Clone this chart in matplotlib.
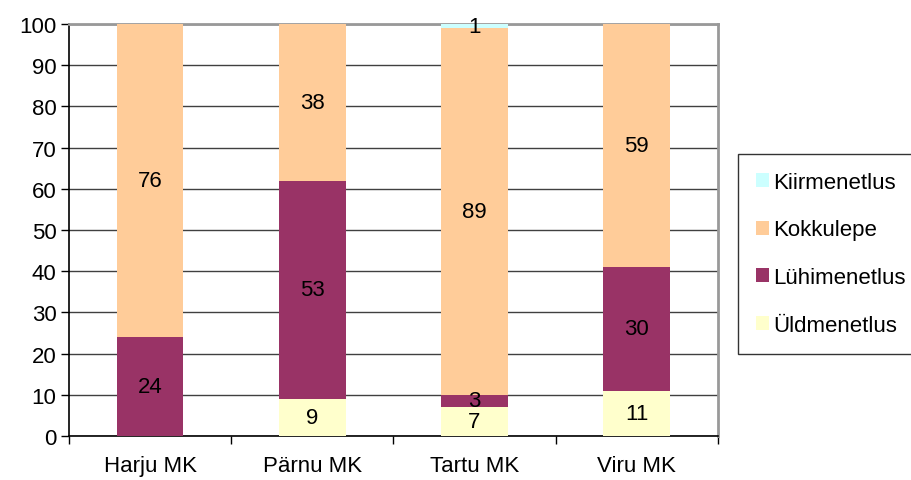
import numpy as np
import matplotlib.pyplot as plt

plt.rcParams['font.family'] = ['Liberation Sans', 'DejaVu Sans']

categories = ['Harju MK', 'Pärnu MK', 'Tartu MK', 'Viru MK']
yldmenetlus = [0, 9, 7, 11]
lyhimenetlus = [24, 53, 3, 30]
kokkulepe = [76, 38, 89, 59]
kiirmenetlus = [0, 0, 1, 0]

series = [
    ('Üldmenetlus', yldmenetlus, '#FFFFCC'),
    ('Lühimenetlus', lyhimenetlus, '#993366'),
    ('Kokkulepe', kokkulepe, '#FFCC99'),
    ('Kiirmenetlus', kiirmenetlus, '#CCFFFF'),
]

fig = plt.figure(figsize=(9.12, 4.81), dpi=100)
ax = fig.add_axes([0.0757, 0.0915, 0.7113, 0.8565])

x = np.arange(len(categories))
bottom = np.zeros(len(categories))
handles = []
for name, vals, col in series:
    vals = np.array(vals, dtype=float)
    bars = ax.bar(x, vals, 0.41, bottom=bottom, color=col, label=name, zorder=3)
    handles.append(bars)
    for xi, b, v in zip(x, bottom, vals):
        if v > 0:
            ax.text(xi, b + v / 2, f'{v:g}', ha='center', va='center',
                    fontsize=16, zorder=4)
    bottom += vals

ax.set_xlim(-0.5, 3.5)
ax.set_ylim(0, 100)
ax.set_yticks(range(0, 101, 10))
ax.yaxis.grid(True, color='#404040', linewidth=1, zorder=0)
ax.set_xticks(x)
ax.set_xticklabels(categories)
ax.set_xticks(np.arange(-0.5, 4, 1), minor=True)
ax.tick_params(axis='x', which='major', length=0, pad=14, labelsize=16)
ax.tick_params(axis='x', which='minor', length=6, width=1, direction='out')
ax.tick_params(axis='y', length=6, width=1, labelsize=16, pad=3)

for s in ['left', 'bottom']:
    ax.spines[s].set_color('black')
    ax.spines[s].set_linewidth(1.2)
for s in ['top', 'right']:
    ax.spines[s].set_color('#999999')
    ax.spines[s].set_linewidth(2)

leg = fig.legend(handles[::-1], [s[0] for s in series][::-1],
                 loc='upper left', bbox_to_anchor=(738 / 912, 1 - 155 / 481),
                 fontsize=16, frameon=True, fancybox=False, edgecolor='black',
                 handlelength=0.6, handleheight=0.6, handletextpad=0.2,
                 labelspacing=1.2, borderpad=0.8, borderaxespad=0)
leg.get_frame().set_linewidth(1)

fig.savefig('out.png', dpi=100)
